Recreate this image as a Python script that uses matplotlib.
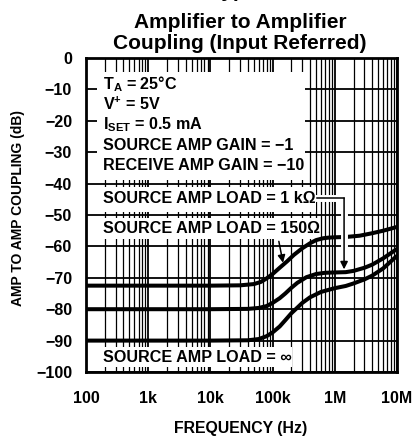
import matplotlib
matplotlib.use('Agg')
import matplotlib.pyplot as plt
import matplotlib.ticker as mticker
from matplotlib.patches import Rectangle

# Данные
x_ticks = [1e2, 1e3, 1e4, 1e5, 1e6, 1e7]
x_labels = ['100', '1k', '10k', '100k', '1M', '10M']
y_ticks = [0, -10, -20, -30, -40, -50, -60, -70, -80, -90, -100]

f_150 = [100, 1e4, 3e4, 5e4, 6.5e4, 8e4, 1e5, 1.3e5, 1.7e5, 2.2e5, 3e5, 4e5,
         5e5, 6.5e5, 8e5, 1e6, 1.5e6, 2.5e6, 4e6, 6e6, 1e7]
db_150 = [-72.5, -72.5, -72.4, -72.0, -71.3, -70.2, -68.8, -66.8, -64.8, -62.7,
          -60.6, -59.0, -58.0, -57.4, -57.2, -57.1, -57.0, -56.6, -55.8, -55.0, -53.8]

f_1k = [100, 1e4, 4e4, 6e4, 8e4, 1e5, 1.3e5, 1.6e5, 2e5, 2.5e5, 3.5e5, 5e5,
        7e5, 1e6, 1.5e6, 2e6, 3e6, 4e6, 6e6, 1e7]
db_1k = [-80.0, -80.0, -79.9, -79.6, -79.0, -78.0, -76.5, -75.0, -73.2, -71.6,
         -69.8, -68.8, -68.4, -68.3, -68.2, -67.8, -66.8, -65.8, -63.8, -60.8]

f_inf = [100, 1e4, 4e4, 6e4, 8e4, 1e5, 1.3e5, 1.6e5, 2e5, 2.5e5, 3e5, 4e5,
         6e5, 1e6, 1.5e6, 2e6, 3e6, 4e6, 6e6, 1e7]
db_inf = [-90.0, -90.0, -89.9, -89.5, -88.6, -87.4, -85.5, -83.5, -81.3, -79.5,
          -78.0, -76.2, -74.5, -73.3, -72.6, -71.8, -70.5, -69.3, -67.0, -63.0]

params = ['T$_\\mathregular{A}$ = 25°C', 'V$^\\mathregular{+}$ = 5V',
          'I$_\\mathregular{SET}$ = 0.5 mA', 'SOURCE AMP GAIN = \u22121',
          'RECEIVE AMP GAIN = \u221210']
params_y = [-10.0, -16.6, -22.7, -29.3, -35.7]

plt.rcParams['font.family'] = ['Liberation Sans', 'DejaVu Sans']
plt.rcParams['font.weight'] = 'bold'
plt.rcParams['mathtext.fontset'] = 'custom'
plt.rcParams['mathtext.rm'] = 'Liberation Sans:bold'
plt.rcParams['mathtext.it'] = 'Liberation Sans:bold'
plt.rcParams['mathtext.bf'] = 'Liberation Sans:bold'

fig = plt.figure(figsize=(4.14, 4.44), dpi=100)
ax = fig.add_axes([86/414, 72/444, 311/414, 314/444])

ax.set_xscale('log')
ax.set_xlim(1e2, 1e7)
ax.set_ylim(-100, 0)
ax.set_xticks(x_ticks)
ax.set_xticklabels(x_labels)
ax.xaxis.set_minor_locator(mticker.LogLocator(base=10, subs=range(2, 10)))
ax.xaxis.set_minor_formatter(mticker.NullFormatter())
ax.set_yticks(y_ticks)
ax.set_yticklabels([str(v).replace('-', '\u2212') for v in y_ticks])
ax.tick_params(which='both', length=0, labelsize=11.5)
ax.tick_params(axis='x', pad=14)
ax.tick_params(axis='y', pad=10)

ax.set_axisbelow(True)
ax.grid(which='major', color='k', lw=1.3)
ax.grid(which='minor', axis='x', color='k', lw=0.9)
for s in ax.spines.values():
    s.set_linewidth(2)

# белые подложки под надписями (закрывают сетку)
boxes = [(0.035, 0.611, 0.669, 0.344),
         (0.035, 0.510, 0.705, 0.079),
         (0.035, 0.424, 0.714, 0.066),
         (0.035, 0.016, 0.627, 0.064)]
for bx, by, bw, bh in boxes:
    ax.add_patch(Rectangle((bx, by), bw, bh, transform=ax.transAxes,
                           facecolor='white', edgecolor='none', zorder=1))

ax.plot(f_150, db_150, color='k', lw=2.9, zorder=3, solid_capstyle='butt')
ax.plot(f_1k, db_1k, color='k', lw=2.9, zorder=3, solid_capstyle='butt')
ax.plot(f_inf, db_inf, color='k', lw=2.9, zorder=3, solid_capstyle='butt')

# стрелка 1 кОм с белым ореолом
ax.plot([5.2e5, 1.41e6], [-44.6, -44.6], color='white', lw=5, zorder=3.5)
ax.plot([1.41e6, 1.41e6], [-44.6, -63.0], color='white', lw=5, zorder=3.5)
ax.plot([5.2e5, 1.41e6], [-44.6, -44.6], color='k', lw=1.1, zorder=4)
ax.annotate('', xy=(1.41e6, -67.3), xytext=(1.41e6, -44.6),
            arrowprops=dict(arrowstyle='-|>', color='k', lw=1.1, mutation_scale=11,
                            shrinkA=0, shrinkB=0), zorder=4)
# стрелка 150 Ом
ax.annotate('', xy=(1.47e5, -65.2), xytext=(1.26e5, -58.4),
            arrowprops=dict(arrowstyle='-|>', color='k', lw=1.1, mutation_scale=11,
                            shrinkA=0, shrinkB=0), zorder=4)

for t, yv in zip(params, params_y):
    ax.text(191, yv, t, fontsize=11.6, va='baseline', ha='left', zorder=5)
ax.text(191, -46.2, 'SOURCE AMP LOAD = 1 k\u03a9', fontsize=11.6, va='baseline', zorder=5)
ax.text(191, -55.7, 'SOURCE AMP LOAD = 150\u03a9', fontsize=11.6, va='baseline', zorder=5)
ax.text(191, -96.8, 'SOURCE AMP LOAD = \u221e', fontsize=11.6, va='baseline', zorder=5)

fig.text(18/414, 1 - 208/444, 'AMP TO AMP COUPLING (dB)', rotation=90,
         ha='center', va='center', fontsize=10)
fig.text(241/414, 1 - 428/444, 'FREQUENCY (Hz)', ha='center', va='center', fontsize=11.4)

fig.text(240/414, 1 - 28/444, 'Amplifier to Amplifier', ha='center', va='baseline',
         fontsize=15, weight='bold')
fig.text(240/414, 1 - 49/444, 'Coupling (Input Referred)', ha='center', va='baseline',
         fontsize=15, weight='bold')
# верхняя строка страницы, видна только нижняя кромка
fig.text(210/414, 1 + 3/444, 'Typical Performance Characteristics', ha='left',
         va='baseline', fontsize=15, weight='bold')

fig.savefig('out.png', dpi=100)
